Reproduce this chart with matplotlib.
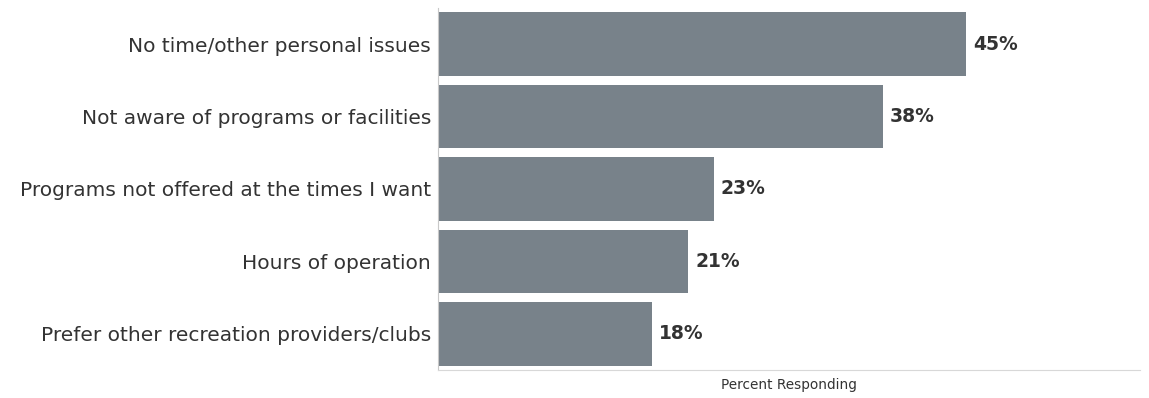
import matplotlib.pyplot as plt

categories = [
    "No time/other personal issues",
    "Not aware of programs or facilities",
    "Programs not offered at the times I want",
    "Hours of operation",
    "Prefer other recreation providers/clubs",
]
values = [45.0, 37.9, 23.5, 21.3, 18.2]
value_labels = ["45%", "38%", "23%", "21%", "18%"]

plt.rcParams["font.family"] = ["DejaVu Sans"]

fig = plt.figure(figsize=(11.49, 3.98), dpi=100)
ax = fig.add_axes([0.3812, 0.0704, 0.6108, 0.9096])

ypos = list(range(len(categories)))
ax.barh(ypos, values, height=0.88, color="#78828a")

for y, v, lab in zip(ypos, values, value_labels):
    ax.text(v + 0.6, y, lab, va="center", ha="left", fontsize=13.5,
            fontweight="bold", color="#333333")

ax.set_yticks(ypos)
ax.set_yticklabels(categories, fontsize=14.5, color="#333333")
ax.tick_params(axis="y", length=0, pad=5)
ax.set_xticks([])
ax.set_xlim(0, 59.8)
ax.set_ylim(4.5, -0.5)

for s in ["top", "right"]:
    ax.spines[s].set_visible(False)
ax.spines["left"].set_color("#c8c8c8")
ax.spines["bottom"].set_color("#d8d8d8")

ax.set_xlabel("Percent Responding", fontsize=9.8, color="#333333", labelpad=6)

fig.savefig("out.png", dpi=100)
